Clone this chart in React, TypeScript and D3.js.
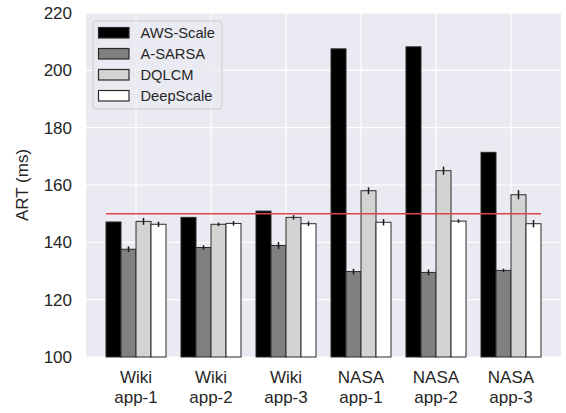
import React from "react";
import * as d3 from "d3";

const categories = ["Wiki\napp-1", "Wiki\napp-2", "Wiki\napp-3", "NASA\napp-1", "NASA\napp-2", "NASA\napp-3"];
const seriesNames = ["AWS-Scale", "A-SARSA", "DQLCM", "DeepScale"];
const awsScale = [147.1, 148.7, 150.9, 207.5, 208.2, 171.4];
const aSarsa = [137.6, 138.2, 138.9, 129.8, 129.5, 130.2];
const dqlcm = [147.3, 146.3, 148.7, 158.0, 165.0, 156.6];
const deepScale = [146.3, 146.6, 146.5, 147.0, 147.4, 146.5];
const awsErr = [0, 0, 0, 0, 0, 0];
const aSarsaErr = [1.0, 0.8, 1.2, 1.0, 1.0, 0.6];
const dqlcmErr = [1.2, 0.6, 0.8, 1.2, 1.4, 1.6];
const deepScaleErr = [0.9, 0.8, 0.8, 1.1, 0.6, 1.3];
const yTicks = [100, 120, 140, 160, 180, 200, 220];
const threshold = 150;

const values = [awsScale, aSarsa, dqlcm, deepScale];
const errors = [awsErr, aSarsaErr, dqlcmErr, deepScaleErr];
const fills = ["#000000", "#808080", "#d3d3d3", "#ffffff"];

export default function App() {
  const W = 566, H = 413;
  const left = 86, right = 561, top = 13, bottom = 357;
  const x = d3.scaleLinear().domain([-2 / 3, categories.length - 1 + 2 / 3]).range([left, right]);
  const y = d3.scaleLinear().domain([100, 220]).range([bottom, top]);
  const bw = 0.2;
  const offsets = [-0.3, -0.1, 0.1, 0.3];
  const font = "'Liberation Sans', Arial, sans-serif";
  const textColor = "#262626";

  return (
    <svg width={W} height={H} style={{ position: "absolute", left: 0, top: 0, background: "#fff" }} fontFamily={font}>
      <rect x={left} y={top} width={right - left} height={bottom - top} fill="#eaeaf2" />
      {yTicks.map((t) => (
        <line key={"gy" + t} x1={left} x2={right} y1={y(t)} y2={y(t)} stroke="#fff" strokeWidth={1.2} />
      ))}
      {categories.map((c, i) => (
        <line key={"gx" + i} x1={x(i)} x2={x(i)} y1={top} y2={bottom} stroke="#fff" strokeWidth={1.2} />
      ))}
      {values.map((vals, s) =>
        vals.map((v, i) => {
          const x0 = x(i + offsets[s] - bw / 2);
          const x1 = x(i + offsets[s] + bw / 2);
          return (
            <rect key={`b${s}-${i}`} x={x0} y={y(v)} width={x1 - x0} height={y(100) - y(v)}
              fill={fills[s]} stroke="#2b2b2b" strokeWidth={1} />
          );
        })
      )}
      {values.map((vals, s) =>
        vals.map((v, i) => {
          const e = errors[s][i];
          if (!e) return null;
          const cx = x(i + offsets[s]);
          return <line key={`e${s}-${i}`} x1={cx} x2={cx} y1={y(v - e)} y2={y(v + e)} stroke="#1a1a1a" strokeWidth={1.5} />;
        })
      )}
      <line x1={x(-0.4)} x2={x(categories.length - 1 + 0.4)} y1={y(threshold)} y2={y(threshold)} stroke="#d9474a" strokeWidth={1.5} />
      {yTicks.map((t) => (
        <text key={"ty" + t} x={72} y={y(t)} dy="0.35em" textAnchor="end" fontSize={17} fill={textColor}>{t}</text>
      ))}
      {categories.map((c, i) => (
        <text key={"tx" + i} x={x(i)} y={383} textAnchor="middle" fontSize={17} fill={textColor}>
          {c.split("\n").map((ln, k) => (
            <tspan key={k} x={x(i)} dy={k === 0 ? 0 : 20}>{ln}</tspan>
          ))}
        </text>
      ))}
      <text transform={`translate(28,${(top + bottom) / 2}) rotate(-90)`} textAnchor="middle" fontSize={17} fill={textColor}>ART (ms)</text>
      <g>
        <rect x={93} y={21} width={129} height={88} rx={3} fill="#eaeaf2" fillOpacity={0.85} stroke="#cccccc" strokeWidth={1} />
        {seriesNames.map((n, k) => (
          <g key={"lg" + k}>
            <rect x={98.5} y={27.5 + k * 21} width={30.5} height={10.5} fill={fills[k]} stroke="#2b2b2b" strokeWidth={1.2} />
            <text x={140.5} y={32.8 + k * 21} dy="0.35em" fontSize={14.7} fill={textColor}>{n}</text>
          </g>
        ))}
      </g>
    </svg>
  );
}
